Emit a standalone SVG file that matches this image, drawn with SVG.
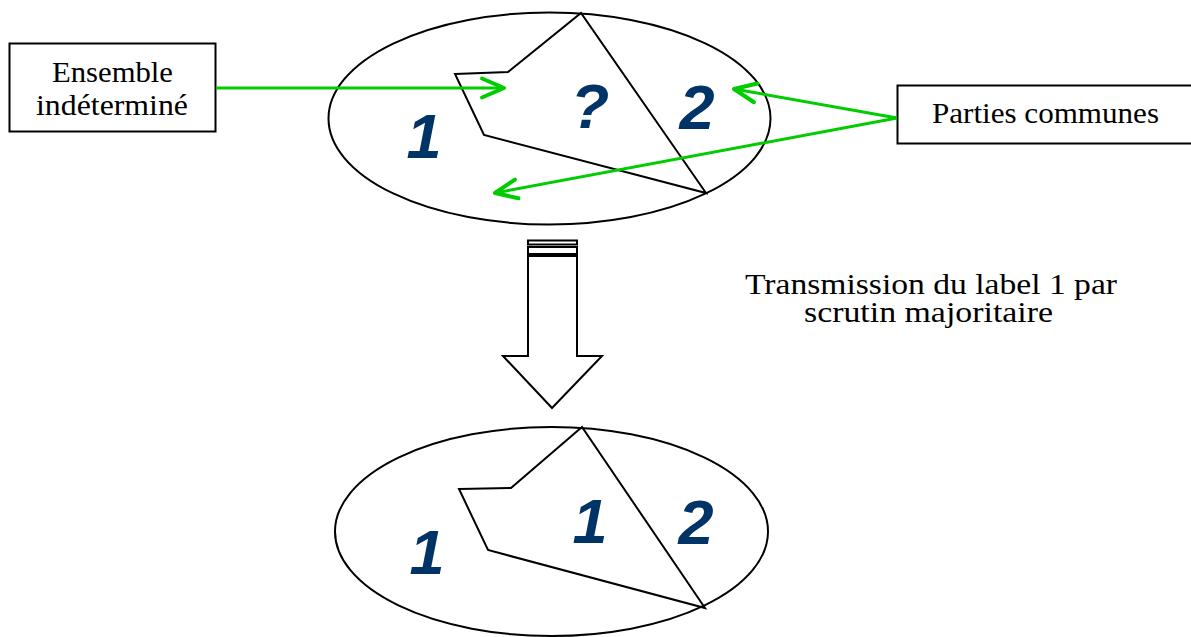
<svg xmlns="http://www.w3.org/2000/svg" width="1191" height="637" viewBox="0 0 1191 637">
<style>
.shape{fill:none;stroke:#000;stroke-width:2}
.box{fill:#fff;stroke:#000;stroke-width:2}
.lbl{font-family:"Liberation Serif","DejaVu Serif",serif;font-size:30px;fill:#000}
.num{font-family:"Liberation Sans",Arial,sans-serif;font-size:63px;font-weight:bold;font-style:italic;fill:#003366;text-anchor:middle}
.conn{fill:none;stroke:#00cc00;stroke-width:3}
</style>
<defs>
<marker id="vhead" markerUnits="userSpaceOnUse" markerWidth="32" markerHeight="32" viewBox="-28 -16 32 32" refX="0" refY="0" orient="auto">
<path d="M-22,-9.5 L0,0 L-22,9.5" fill="none" stroke="#00cc00" stroke-width="4" stroke-linecap="round" stroke-linejoin="round"/>
</marker>
</defs>
<rect width="1191" height="637" fill="#fff"/>

<g id="top-set">
<ellipse class="shape" cx="549.5" cy="118.5" rx="221" ry="106"/>
<polygon class="shape" points="455,74 508,72 581,13 706,193 484,135"/>
<text class="num" x="424" y="158">1</text>
<text class="num" x="590" y="128">?</text>
<text class="num" x="697" y="129">2</text>
</g>

<g id="bottom-set">
<ellipse class="shape" cx="551.5" cy="531.5" rx="216.5" ry="104.5"/>
<polygon class="shape" points="459,489 511,488 582,427 705,608 488,550"/>
<text class="num" x="427" y="574">1</text>
<text class="num" x="590" y="543">1</text>
<text class="num" x="696" y="544">2</text>
</g>

<g id="ensemble-box">
<rect class="box" x="9.5" y="43.5" width="206" height="88"/>
<text class="lbl" x="52" y="82" textLength="121" lengthAdjust="spacingAndGlyphs">Ensemble</text>
<text class="lbl" x="36" y="115" textLength="152" lengthAdjust="spacingAndGlyphs">indéterminé</text>
</g>

<g id="parties-box">
<rect class="box" x="897.5" y="85.5" width="300" height="58"/>
<text class="lbl" x="932" y="123" textLength="227" lengthAdjust="spacingAndGlyphs">Parties communes</text>
</g>

<g id="transmission-arrow">
<rect class="box" x="528" y="240.5" width="49" height="4" stroke-width="1.5"/>
<rect class="box" x="528" y="247" width="49" height="7" stroke-width="1.5"/>
<polygon class="box" points="528,256 577,256 577,356 602,356 552,408 503,356 528,356"/>
</g>

<g id="transmission-label">
<text class="lbl" x="745" y="294" textLength="372" lengthAdjust="spacingAndGlyphs">Transmission du label 1 par</text>
<text class="lbl" x="804" y="322" textLength="249" lengthAdjust="spacingAndGlyphs">scrutin majoritaire</text>
</g>

<g id="connectors">
<line class="conn" x1="216" y1="88" x2="504" y2="88" marker-end="url(#vhead)"/>
<line class="conn" x1="897" y1="118" x2="734" y2="89" marker-end="url(#vhead)"/>
<line class="conn" x1="897" y1="118" x2="495" y2="193" marker-end="url(#vhead)"/>
</g>
</svg>
